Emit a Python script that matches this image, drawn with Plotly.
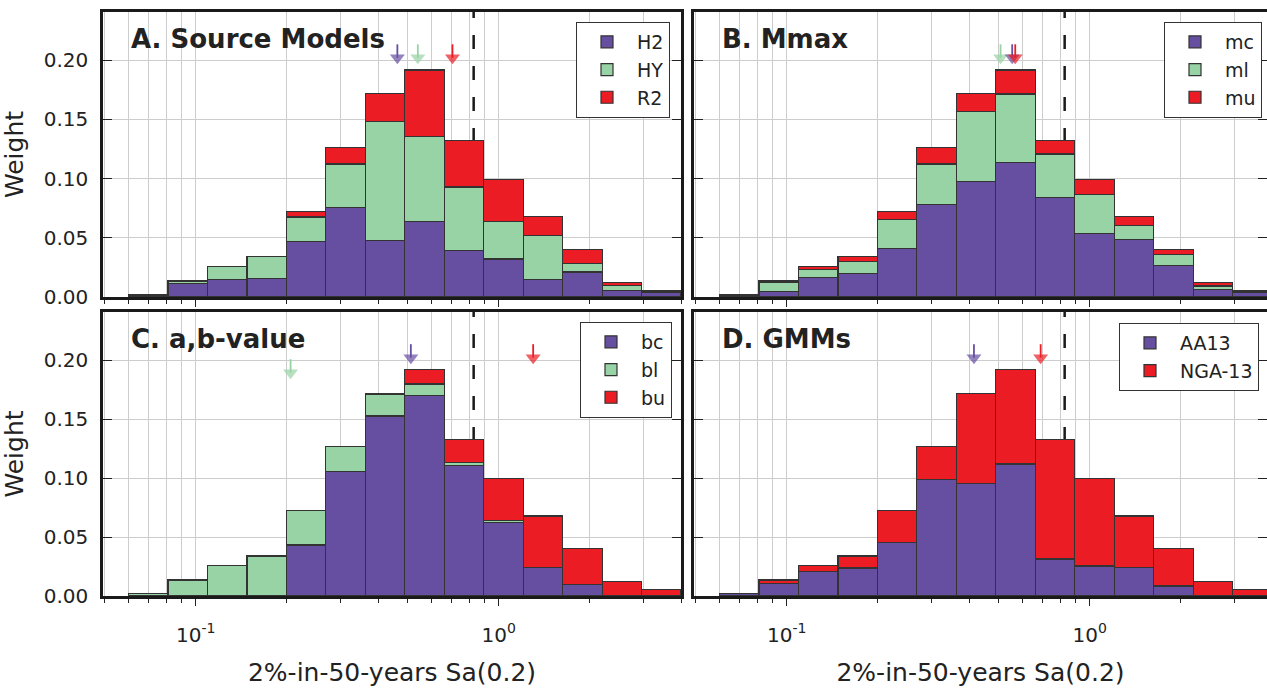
import math
import plotly.graph_objects as go

# ---------------- data ----------------
bin_edges = [0.06, 0.081, 0.1093, 0.1476, 0.1992, 0.2689, 0.363, 0.49,
             0.6614, 0.8928, 1.205, 1.627, 2.196, 2.964, 4.0]

# Panel A: source models
src_H2 = [0.0015, 0.0113, 0.0146, 0.0158, 0.0468, 0.0755, 0.0479, 0.0639, 0.0394, 0.0321, 0.0146, 0.0211, 0.0056, 0.0037]
src_HY = [0.0, 0.0019, 0.0114, 0.0182, 0.0208, 0.0369, 0.1003, 0.0716, 0.0536, 0.0318, 0.0375, 0.0074, 0.0043, 0.0011]
src_R2 = [0.0003, 0.0003, 0.0, 0.0, 0.0046, 0.0141, 0.0236, 0.0563, 0.0395, 0.0354, 0.0157, 0.0118, 0.0023, 0.0005]

# Panel B: Mmax
mmax_mc = [0.0015, 0.0045, 0.0163, 0.0197, 0.0411, 0.078, 0.0977, 0.1138, 0.0839, 0.0535, 0.0487, 0.0265, 0.0062, 0.0037]
mmax_ml = [0.0, 0.0082, 0.0068, 0.0104, 0.0243, 0.0344, 0.0592, 0.0577, 0.0369, 0.033, 0.0119, 0.0096, 0.0031, 0.0011]
mmax_mu = [0.0003, 0.0008, 0.0029, 0.0039, 0.0068, 0.0141, 0.0149, 0.0203, 0.0117, 0.0128, 0.0072, 0.0042, 0.0029, 0.0005]

# Panel C: a,b-value
ab_bc = [0.0, 0.0, 0.0, 0.0, 0.0432, 0.1055, 0.1526, 0.1698, 0.1109, 0.0621, 0.0243, 0.0096, 0.0, 0.0]
ab_bl = [0.0018, 0.0135, 0.026, 0.034, 0.029, 0.021, 0.0182, 0.0099, 0.0025, 0.0022, 0.0, 0.0, 0.0, 0.0]
ab_bu = [0.0, 0.0, 0.0, 0.0, 0.0, 0.0, 0.001, 0.0121, 0.0191, 0.035, 0.0435, 0.0307, 0.0122, 0.0053]

# Panel D: GMMs
gmm_AA13 = [0.0018, 0.0104, 0.0206, 0.0237, 0.0451, 0.0987, 0.0953, 0.112, 0.0313, 0.0254, 0.024, 0.0085, 0.0, 0.0]
gmm_NGA13 = [0.0, 0.0031, 0.0054, 0.0103, 0.0271, 0.0278, 0.0765, 0.0798, 0.1012, 0.0739, 0.0438, 0.0318, 0.0122, 0.0053]

# mean values (arrows) per branch
mean_A = {"H2": 0.463, "HY": 0.541, "R2": 0.704}
mean_B = {"ml": 0.508, "mc": 0.555, "mu": 0.568}
mean_C = {"bl": 0.2056, "bc": 0.513, "bu": 1.30}
mean_D = {"AA13": 0.415, "NGA-13": 0.689}

overall_mean = 0.827  # dashed line

x_major = [0.1, 1.0]
x_major_text = ["10<sup>-1</sup>", "10<sup>0</sup>"]
x_minor = [0.05, 0.06, 0.07, 0.08, 0.09, 0.2, 0.3, 0.4, 0.5, 0.6, 0.7, 0.8, 0.9, 2, 3, 4]
y_ticks = [0.0, 0.05, 0.10, 0.15, 0.20]

PURPLE = "#664ea1"
GREEN = "#97d3a4"
RED = "#eb1c24"
TXT = "#222222"
GRID = "#cdcdcd"
FONT = "DejaVu Sans"

W, H = 1267, 688
left_w = [e1 - e0 for e0, e1 in zip(bin_edges[:-1], bin_edges[1:])]
left_x = bin_edges[:-1]

fig = go.Figure()

panels = [
    ("x", "y", "legend", [("H2", src_H2, PURPLE), ("HY", src_HY, GREEN), ("R2", src_R2, RED)],
     [("H2", PURPLE), ("HY", GREEN), ("R2", RED)], mean_A, "A. Source Models", {}),
    ("x2", "y2", "legend2", [("mc", mmax_mc, PURPLE), ("ml", mmax_ml, GREEN), ("mu", mmax_mu, RED)],
     [("ml", GREEN), ("mc", PURPLE), ("mu", RED)], mean_B, "B. Mmax", {}),
    ("x3", "y3", "legend3", [("bc", ab_bc, PURPLE), ("bl", ab_bl, GREEN), ("bu", ab_bu, RED)],
     [("bl", GREEN), ("bc", PURPLE), ("bu", RED)], mean_C, "C. a,b-value", {"bl": (0.2008, 0.1839)}),
    ("x4", "y4", "legend4", [("AA13", gmm_AA13, PURPLE), ("NGA-13", gmm_NGA13, RED)],
     [("AA13", PURPLE), ("NGA-13", RED)], mean_D, "D. GMMs", {}),
]

ARROW_TAIL, ARROW_TIP = 0.2135, 0.1966
Y_MAX = 0.2408
PANEL_H = 285.0
px2y = Y_MAX / PANEL_H
HEAD = 13

annotations = []
shapes = []
for xa, ya, lg, series, arrows, means, title, special in panels:
    for name, vals, col in series:
        fig.add_trace(go.Bar(
            x=left_x, y=vals, width=left_w, offset=0, name=name,
            marker=dict(color=col, line=dict(color="#333333", width=1.2)),
            xaxis=xa, yaxis=ya, legend=lg, showlegend=True,
        ))
    for name, col in arrows:
        tail, tip = special.get(name, (ARROW_TAIL, ARROW_TIP))
        head_c = tip + (HEAD / 2.0) * px2y
        fig.add_trace(go.Scatter(
            x=[means[name], means[name]], y=[tail, head_c],
            mode="lines+markers",
            line=dict(color=col, width=1.8),
            marker=dict(symbol=["circle", "triangle-down"], size=[0, HEAD], color=col,
                        line=dict(width=0)),
            xaxis=xa, yaxis=ya, showlegend=False, hoverinfo="skip", cliponaxis=False,
        ))
    ax_id = xa[1:]
    shapes.append(dict(type="line", xref=xa, yref=f"y{ax_id} domain",
                       x0=overall_mean, x1=overall_mean, y0=0, y1=1, layer="below",
                       line=dict(color="#1a1a1a", width=2.5, dash="14px,17px")))
    annotations.append(dict(text=f"<b>{title}</b>", xref=f"x{ax_id} domain", yref=f"y{ax_id} domain",
                            x=0.045, y=0.905, xanchor="left", yanchor="middle", showarrow=False,
                            font=dict(size=26, color=TXT, family=FONT)))

# ---------------- layout ----------------
lo = math.log10(0.0494)
hiA = math.log10(4.0)
pxdec = 578.0 / (hiA - lo)
hiB = lo + 573.0 / pxdec

dom_xL = [103 / W, 681 / W]
dom_xR = [694 / W, 1.0]
dom_yT = [1 - 297 / H, 1 - 12 / H]
dom_yB = [1 - 596 / H, 1 - 312 / H]


def xcfg(domain, anchor, rng, labels):
    cfg = dict(
        type="log", domain=domain, anchor=anchor, range=rng, automargin=False,
        tickmode="array", tickvals=x_major, ticktext=x_major_text,
        ticks="outside", ticklen=7, tickwidth=1.2, tickcolor=TXT,
        showticklabels=labels, tickfont=dict(size=20, color=TXT, family=FONT),
        ticklabelstandoff=12,
        showgrid=True, gridcolor=GRID, gridwidth=1,
        minor=dict(tickmode="array", tickvals=x_minor, ticks="outside", ticklen=4,
                   tickwidth=1, tickcolor=TXT, showgrid=True, gridcolor=GRID, gridwidth=1),
        showline=True, linecolor="#1a1a1a", linewidth=2.5, mirror=True, zeroline=False,
    )
    if labels:
        cfg["title"] = dict(text="2%-in-50-years Sa(0.2)",
                            font=dict(size=25, color=TXT, family=FONT), standoff=18)
    return cfg


def ycfg(domain, anchor, labels):
    cfg = dict(
        domain=domain, anchor=anchor, range=[0, Y_MAX], automargin=False,
        tickmode="array", tickvals=y_ticks, tickformat=".2f",
        ticks="inside", ticklen=9, tickwidth=1.2, tickcolor=TXT,
        showticklabels=labels, tickfont=dict(size=20, color=TXT, family=FONT),
        ticklabelstandoff=8,
        showgrid=True, gridcolor=GRID, gridwidth=1,
        showline=True, linecolor="#1a1a1a", linewidth=2.5, mirror="ticks", zeroline=False,
    )
    if labels:
        cfg["title"] = dict(text="Weight", font=dict(size=25, color=TXT, family=FONT), standoff=14)
    return cfg


def lgcfg(xr, yt):
    return dict(x=xr, y=yt, xanchor="right", yanchor="top", xref="paper", yref="paper",
                bgcolor="white", bordercolor="#333333", borderwidth=1,
                font=dict(size=19, color=TXT, family=FONT), traceorder="normal",
                itemwidth=50, tracegroupgap=0)


fig.update_layout(
    width=W, height=H, autosize=False,
    margin=dict(l=0, r=0, t=0, b=0, autoexpand=False),
    paper_bgcolor="white", plot_bgcolor="white",
    font=dict(family=FONT, color=TXT),
    barmode="stack",
    xaxis=xcfg(dom_xL, "y", [lo, hiA], False),
    xaxis2=xcfg(dom_xR, "y2", [lo, hiB], False),
    xaxis3=xcfg(dom_xL, "y3", [lo, hiA], True),
    xaxis4=xcfg(dom_xR, "y4", [lo, hiB], True),
    yaxis=ycfg(dom_yT, "x", True),
    yaxis2=ycfg(dom_yT, "x2", False),
    yaxis3=ycfg(dom_yB, "x3", True),
    yaxis4=ycfg(dom_yB, "x4", False),
    legend=lgcfg(670 / W, 1 - 22 / H),
    legend2=lgcfg(1262 / W, 1 - 22 / H),
    legend3=lgcfg(672 / W, 1 - 322 / H),
    legend4=lgcfg(1259 / W, 1 - 323 / H),
    annotations=annotations,
    shapes=shapes,
    showlegend=True,
)

fig.write_html("out.html")
